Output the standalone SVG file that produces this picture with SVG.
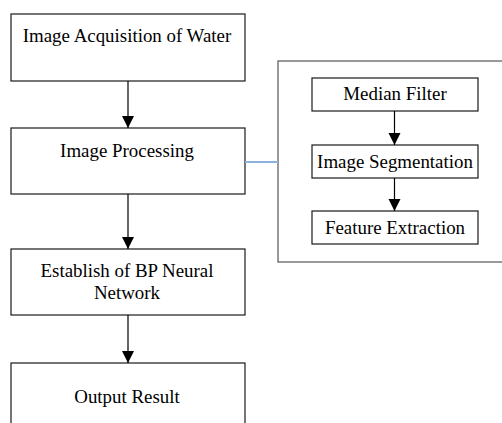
<svg xmlns="http://www.w3.org/2000/svg" width="502" height="423" viewBox="0 0 502 423">
<defs>
<style>
.box{fill:#fff;stroke:#1a1a1a;stroke-width:1.2}
.panel{fill:#fff;stroke:#555;stroke-width:1.2}
.t{font-family:"Liberation Serif","Times New Roman",serif;font-size:18.9px;fill:#000;text-anchor:middle}
.c{stroke:#000;stroke-width:1.2;fill:none}
.link{stroke:#8eb0dc;stroke-width:2;fill:none}
</style>
<marker id="ah" markerWidth="12" markerHeight="13" refX="12" refY="6" orient="auto" markerUnits="userSpaceOnUse">
<path d="M0,0 L12,6 L0,12 Z" fill="#000"/>
</marker>
</defs>
<rect width="502" height="423" fill="#fff"/>
<g id="n1"><rect class="box" x="11" y="14" width="234" height="67"/><text class="t" x="127" y="42">Image Acquisition of Water</text></g>
<g id="n2"><rect class="box" x="11" y="128" width="234" height="66"/><text class="t" x="127" y="157">Image Processing</text></g>
<g id="n3"><rect class="box" x="11" y="249" width="234" height="66"/><text class="t" x="127" y="277">Establish of BP Neural</text><text class="t" x="127" y="299">Network</text></g>
<g id="n4"><rect class="box" x="11" y="363" width="234" height="70"/><text class="t" x="127" y="403">Output Result</text></g>
<g id="panel"><rect class="panel" x="278" y="61" width="230" height="201"/></g>
<g id="s1"><rect class="box" x="312" y="78" width="166" height="33"/><text class="t" x="395" y="100">Median Filter</text></g>
<g id="s2"><rect class="box" x="312" y="145" width="166" height="33"/><text class="t" x="395" y="167.5">Image Segmentation</text></g>
<g id="s3"><rect class="box" x="312" y="211" width="166" height="33"/><text class="t" x="395" y="233.5">Feature Extraction</text></g>
<g id="connectors">
<line class="c" x1="128" y1="81" x2="128" y2="128" marker-end="url(#ah)"/>
<line class="c" x1="128" y1="194" x2="128" y2="249" marker-end="url(#ah)"/>
<line class="c" x1="128" y1="315" x2="128" y2="363" marker-end="url(#ah)"/>
<line class="c" x1="394.5" y1="111" x2="394.5" y2="145" marker-end="url(#ah)"/>
<line class="c" x1="394.5" y1="178" x2="394.5" y2="211" marker-end="url(#ah)"/>
<line class="link" x1="245" y1="162" x2="278" y2="162"/>
</g>
</svg>
